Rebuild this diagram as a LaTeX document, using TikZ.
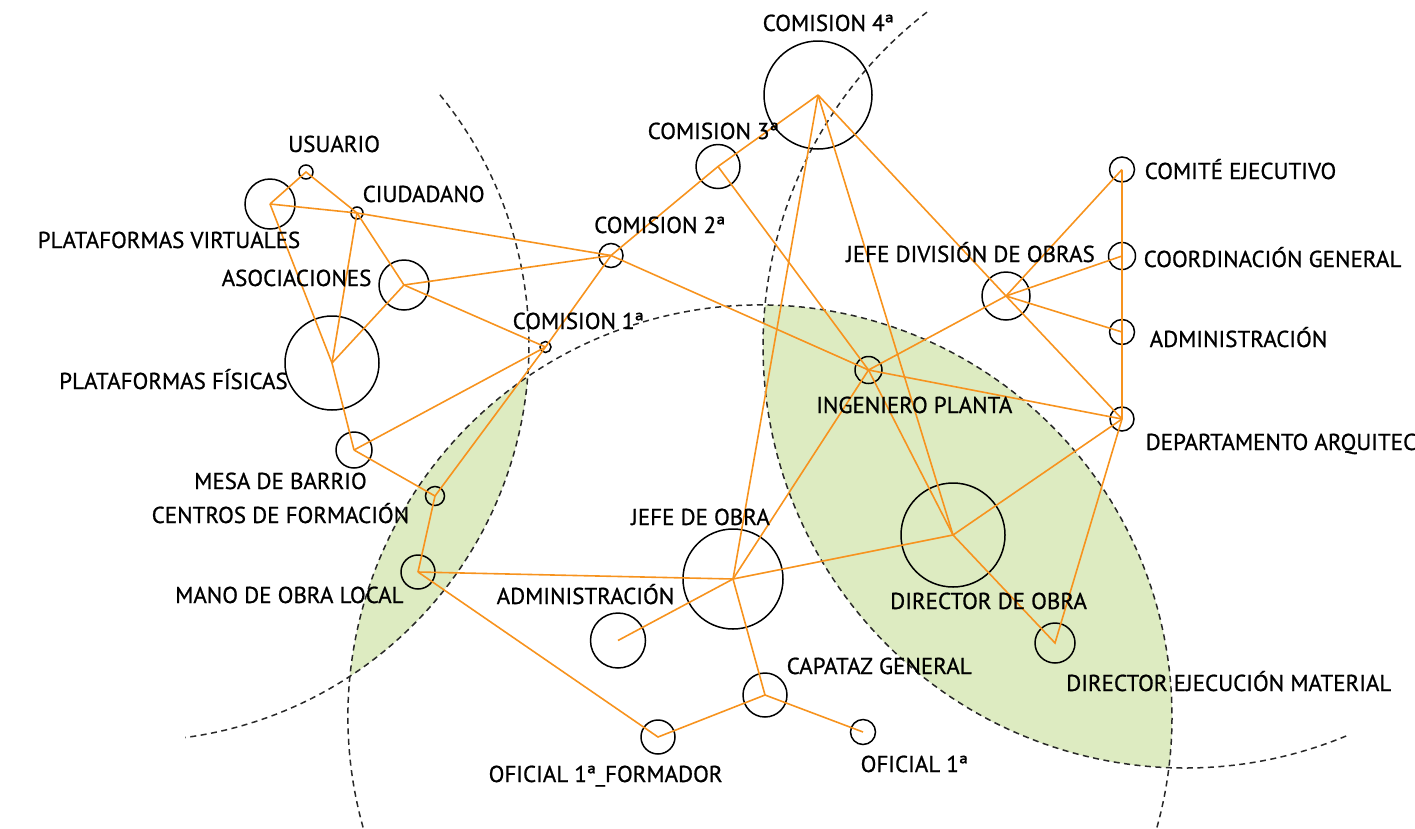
\documentclass[tikz,border=0pt]{standalone}
\usepackage{fontspec}
\setmainfont[FakeBold=0.8]{PT Sans}
\definecolor{orangeC}{RGB}{247,147,30}
\definecolor{greenC}{RGB}{221,235,193}
\definecolor{guideC}{RGB}{40,40,40}
\tikzset{
  nd/.style={circle,draw=black,line width=1.5pt,inner sep=0pt,minimum size=#1},
  lbl/.style={anchor=base west,inner sep=0pt,font=\fontsize{23}{27}\selectfont},
  edge/.style={draw=orangeC,line width=1.6pt},
  guide/.style={draw=guideC,line width=1.5pt,dash pattern=on 6pt off 4.5pt},
}
\begin{document}
\begin{tikzpicture}[x=1pt,y=-1pt]
\useasboundingbox (0,0) rectangle (1415,828);
\clip (0,0) rectangle (1415,828);
% guide circle centres
\coordinate (ca) at (133,345);
\coordinate (cb) at (760,717);
\coordinate (cc) at (1185,346);
% green lenses
\begin{scope}
  \clip (ca) circle[radius=396pt];
  \fill[greenC] (cb) circle[radius=412pt];
\end{scope}
\begin{scope}
  \clip (cc) circle[radius=422pt];
  \fill[greenC] (cb) circle[radius=412pt];
\end{scope}
% dashed arcs
\draw[guide] (ca) ++(39.2:396pt) arc[start angle=39.2,end angle=-82.4,radius=396pt];
\draw[guide] (cb) ++(197:412pt) arc[start angle=197,end angle=-17,radius=412pt];
\draw[guide] (cc) ++(127.7:422pt) arc[start angle=127.7,end angle=292.6,radius=422pt];

% nodes
\node[nd=14pt] (usu) at (306,172) {};
\node[nd=12pt] (ciu) at (357,213) {};
\node[nd=50pt] (pv) at (270,204) {};
\node[nd=50pt] (aso) at (404,285) {};
\node[nd=94pt] (pf) at (332,363) {};
\node[nd=36pt] (mesa) at (354,450) {};
\node[nd=19pt] (cen) at (435,496) {};
\node[nd=34pt] (mano) at (418,572) {};
\node[nd=11pt] (c1) at (545.5,347) {};
\node[nd=24pt] (c2) at (611,255.5) {};
\node[nd=44pt] (c3) at (718,166.5) {};
\node[nd=108pt] (c4) at (818,95) {};
\node[nd=100pt] (jo) at (733,579) {};
\node[nd=55pt] (adm) at (618,640.5) {};
\node[nd=44pt] (cap) at (765,695) {};
\node[nd=34pt] (ofm) at (658,737) {};
\node[nd=25pt] (of1) at (863,732) {};
\node[nd=27pt] (ing) at (868.5,370) {};
\node[nd=48pt] (jdiv) at (1006,296) {};
\node[nd=104pt] (dir) at (953,535) {};
\node[nd=40pt] (dej) at (1055,643) {};
\node[nd=25pt] (com) at (1122,169.5) {};
\node[nd=27pt] (coo) at (1122,256) {};
\node[nd=25pt] (admr) at (1122,332) {};
\node[nd=24pt] (dep) at (1122,419) {};

% connectors
\draw[edge] (pv.center) -- (usu.center) -- (ciu.center);
\draw[edge] (pv.center) -- (ciu.center) -- (c2.center);
\draw[edge] (ciu.center) -- (pf.center);
\draw[edge] (ciu.center) -- (aso.center);
\draw[edge] (pv.center) -- (pf.center) -- (mesa.center);
\draw[edge] (aso.center) -- (pf.center);
\draw[edge] (aso.center) -- (c2.center);
\draw[edge] (aso.center) -- (c1.center);
\draw[edge] (mesa.center) -- (c1.center);
\draw[edge] (mesa.center) -- (cen.center) -- (mano.center);
\draw[edge] (cen.center) -- (c1.center) -- (c2.center) -- (c3.center) -- (c4.center);
\draw[edge] (mano.center) -- (jo.center);
\draw[edge] (mano.center) -- (ofm.center) -- (cap.center) -- (of1.center);
\draw[edge] (cap.center) -- (jo.center);
\draw[edge] (adm.center) -- (jo.center);
\draw[edge] (jo.center) -- (c4.center);
\draw[edge] (jo.center) -- (ing.center);
\draw[edge] (jo.center) -- (dir.center);
\draw[edge] (c2.center) -- (ing.center);
\draw[edge] (c3.center) -- (ing.center) -- (dir.center);
\draw[edge] (c4.center) -- (dir.center);
\draw[edge] (c4.center) -- (jdiv.center) -- (dep.center);
\draw[edge] (jdiv.center) -- (com.center);
\draw[edge] (jdiv.center) -- (coo.center);
\draw[edge] (jdiv.center) -- (admr.center);
\draw[edge] (jdiv.center) -- (ing.center) -- (dep.center);
\draw[edge] (com.center) -- (dep.center);
\draw[edge] (dep.center) -- (dir.center);
\draw[edge] (dep.center) -- (dej.center) -- (dir.center);

% labels
\node[lbl] (lusu) at (288,152) {USUARIO};
\node[lbl] (lciu) at (362.5,202) {CIUDADANO};
\node[lbl] (lpv) at (37.5,248) {PLATAFORMAS VIRTUALES};
\node[lbl] (laso) at (221.5,286) {ASOCIACIONES};
\node[lbl] (lpf) at (59,389) {PLATAFORMAS FÍSICAS};
\node[lbl] (lmesa) at (194,489) {MESA DE BARRIO};
\node[lbl] (lcen) at (151.5,523) {CENTROS DE FORMACIÓN};
\node[lbl] (lmano) at (175,603) {MANO DE OBRA LOCAL};
\node[lbl] (ladm) at (496.5,604) {ADMINISTRACIÓN};
\node[lbl] (lofm) at (488.5,782) {OFICIAL 1ª\_FORMADOR};
\node[lbl] (ljo) at (631,525) {JEFE DE OBRA};
\node[lbl] (lc1) at (512.5,329) {COMISION 1ª};
\node[lbl] (lc2) at (594,233) {COMISION 2ª};
\node[lbl] (lc3) at (647.5,139) {COMISION 3ª};
\node[lbl] (lc4) at (762.5,31) {COMISION 4ª};
\node[lbl] (ljdiv) at (846,262) {JEFE DIVISIÓN DE OBRAS};
\node[lbl] (lcom) at (1144.5,179) {COMITÉ EJECUTIVO};
\node[lbl] (lcoo) at (1143.5,267) {COORDINACIÓN GENERAL};
\node[lbl] (ladmr) at (1149.5,347) {ADMINISTRACIÓN};
\node[lbl] (ling) at (816,413) {INGENIERO PLANTA};
\node[lbl] (ldep) at (1145.5,450) {DEPARTAMENTO ARQUITEC};
\node[lbl] (ldir) at (890,609) {DIRECTOR DE OBRA};
\node[lbl] (ldej) at (1066,691) {DIRECTOR EJECUCIÓN MATERIAL};
\node[lbl] (lcap) at (786.5,674) {CAPATAZ GENERAL};
\node[lbl] (lof1) at (860.5,772) {OFICIAL 1ª};
\end{tikzpicture}
\end{document}
